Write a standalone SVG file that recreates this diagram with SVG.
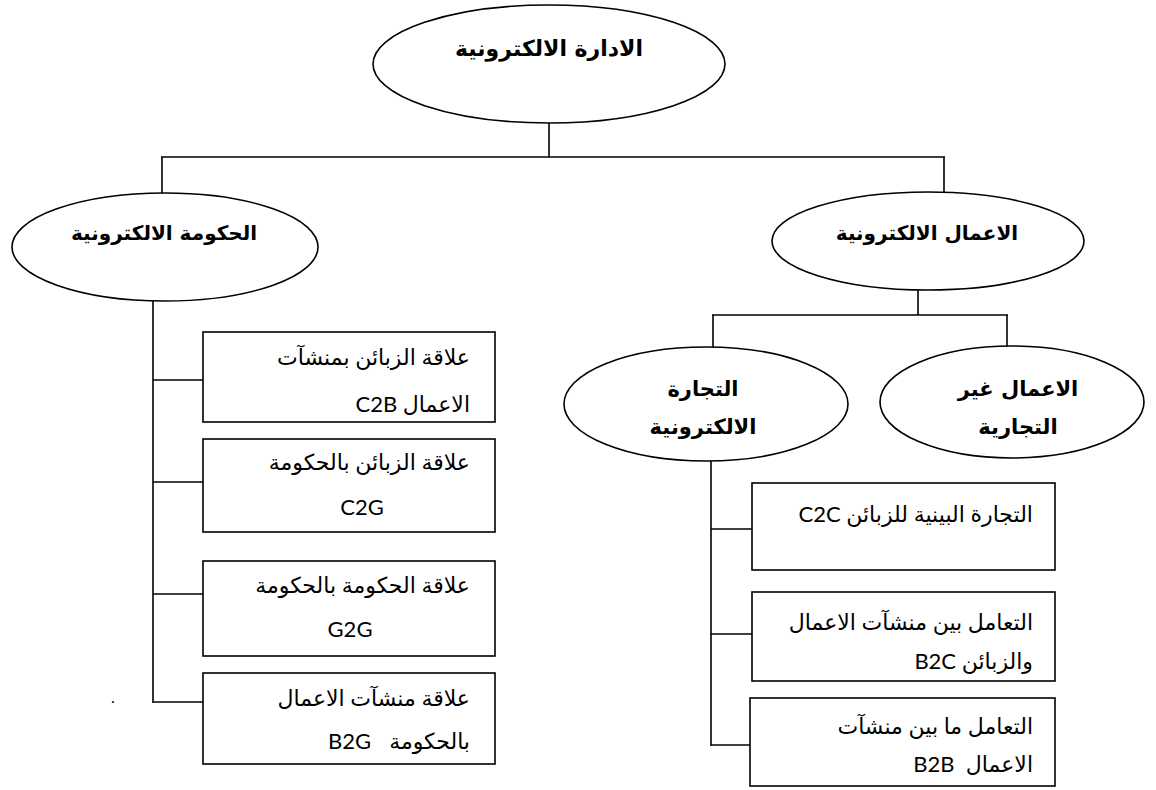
<svg xmlns="http://www.w3.org/2000/svg" width="1156" height="790" viewBox="0 0 1156 790">
<style>
.shape{fill:#fff;stroke:#000;stroke-width:1.6}
.conn line{stroke:#000;stroke-width:1.6}
.title{font-family:"DejaVu Sans",sans-serif;font-weight:bold;font-size:20px;fill:#000;text-anchor:middle}
.lbl{font-family:Lato,"DejaVu Sans",sans-serif;font-size:22px;fill:#000;white-space:pre}
</style>
<rect width="1156" height="790" fill="#fff"/>
<g id="connectors" class="conn">
<line x1="549" y1="123" x2="549" y2="157"/>
<line x1="161" y1="157" x2="945" y2="157"/>
<line x1="162" y1="157" x2="162" y2="193"/>
<line x1="944" y1="157" x2="944" y2="192"/>
<line x1="153" y1="301" x2="153" y2="703"/>
<line x1="153" y1="380" x2="203" y2="380"/>
<line x1="153" y1="482" x2="203" y2="482"/>
<line x1="153" y1="594" x2="203" y2="594"/>
<line x1="153" y1="702" x2="203" y2="702"/>
<line x1="918" y1="290" x2="918" y2="315"/>
<line x1="712" y1="315" x2="1008" y2="315"/>
<line x1="713" y1="315" x2="713" y2="347"/>
<line x1="1007" y1="315" x2="1007" y2="347"/>
<line x1="711" y1="460" x2="711" y2="746"/>
<line x1="711" y1="529" x2="752" y2="529"/>
<line x1="711" y1="634" x2="752" y2="634"/>
<line x1="711" y1="745" x2="750" y2="745"/>
</g>
<g id="n-root">
<ellipse class="shape" cx="549" cy="64" rx="176" ry="59"/>
<text class="title" x="549" y="56" style="font-size:22px">الادارة الالكترونية</text>
</g>
<g id="n-egov">
<ellipse class="shape" cx="165" cy="247" rx="153" ry="54"/>
<text class="title" x="164" y="240">الحكومة الالكترونية</text>
</g>
<g id="n-ebus">
<ellipse class="shape" cx="928" cy="241" rx="156" ry="49"/>
<text class="title" x="927" y="240">الاعمال الالكترونية</text>
</g>
<g id="n-ecom">
<ellipse class="shape" cx="706" cy="404" rx="142" ry="57"/>
<text class="title" x="703" y="396" style="font-size:21px">التجارة</text>
<text class="title" x="703" y="434" style="font-size:21px">الالكترونية</text>
</g>
<g id="n-noncom">
<ellipse class="shape" cx="1012" cy="402" rx="132" ry="56"/>
<text class="title" x="1018" y="396" style="font-size:21px">الاعمال غير</text>
<text class="title" x="1018" y="434" style="font-size:21px">التجارية</text>
</g>
<g id="n-c2b">
<rect class="shape" x="203" y="332" width="292" height="90"/>
<text class="lbl" direction="rtl" x="470" y="365">علاقة الزبائن بمنشآت</text>
<text class="lbl" direction="rtl" x="470" y="412">الاعمال C2B</text>
</g>
<g id="n-c2g">
<rect class="shape" x="203" y="439" width="292" height="93"/>
<text class="lbl" direction="rtl" x="470" y="470">علاقة الزبائن بالحكومة</text>
<text class="lbl" x="362" y="515" text-anchor="middle">C2G</text>
</g>
<g id="n-g2g">
<rect class="shape" x="203" y="561" width="292" height="95"/>
<text class="lbl" direction="rtl" x="470" y="593">علاقة الحكومة بالحكومة</text>
<text class="lbl" x="350" y="637" text-anchor="middle">G2G</text>
</g>
<g id="n-b2g">
<rect class="shape" x="203" y="673" width="292" height="91"/>
<text class="lbl" direction="rtl" x="470" y="706">علاقة منشآت الاعمال</text>
<text class="lbl" direction="rtl" x="470" y="749">بالحكومة</text>
<text class="lbl" x="328" y="749">B2G</text>
</g>
<g id="n-c2c">
<rect class="shape" x="752" y="483" width="303" height="87"/>
<text class="lbl" direction="rtl" x="1033" y="522">التجارة البينية للزبائن C2C</text>
</g>
<g id="n-b2c">
<rect class="shape" x="752" y="592" width="303" height="89"/>
<text class="lbl" direction="rtl" x="1033" y="630">التعامل بين منشآت الاعمال</text>
<text class="lbl" direction="rtl" x="1033" y="669">والزبائن B2C</text>
</g>
<g id="n-b2b">
<rect class="shape" x="750" y="698" width="305" height="88"/>
<text class="lbl" direction="rtl" x="1033" y="734">التعامل ما بين منشآت</text>
<text class="lbl" direction="rtl" x="1033" y="772">الاعمال  B2B</text>
</g>
<text class="lbl" x="111" y="703" style="font-size:16px">.</text>
</svg>
